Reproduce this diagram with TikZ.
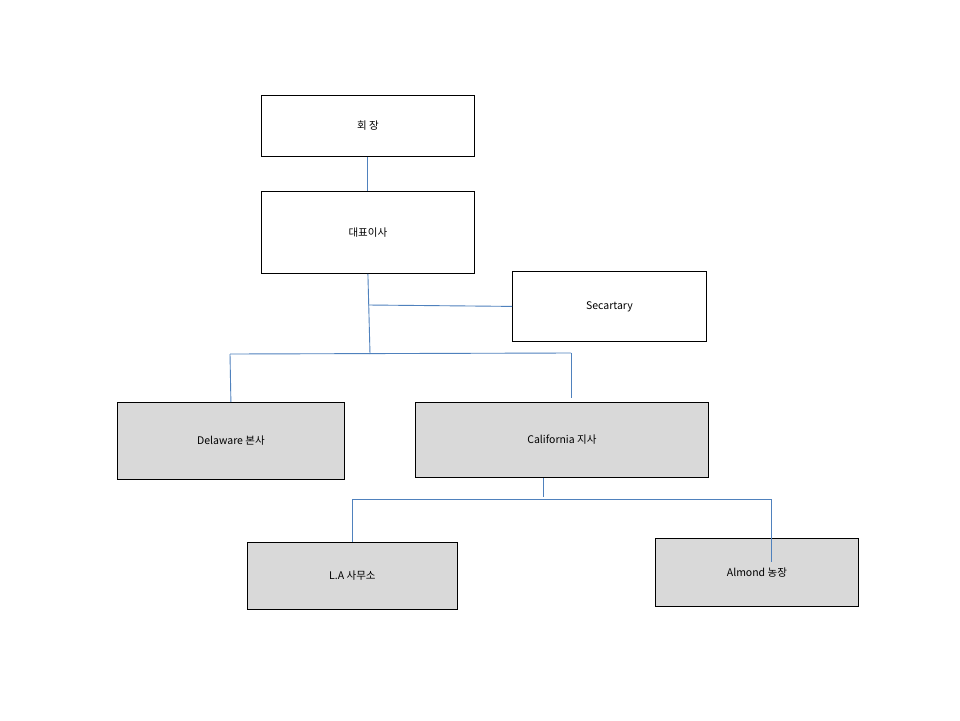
\documentclass[tikz,border=0pt]{standalone}
\usepackage{fontspec}
\setmainfont{Noto Sans CJK KR}
\begin{document}
\begin{tikzpicture}[x=1pt,y=-1pt,
  box/.style={draw=black,line width=0.8pt,anchor=north west,inner sep=0pt,font=\fontsize{10.5}{12}\selectfont},
  gbox/.style={box,fill=gray!30},
  conn/.style={draw={rgb,255:red,79;green,129;blue,189},line width=0.9pt}]
\useasboundingbox[fill=white] (0,0) rectangle (960,720);
\node[box,minimum width=213pt,minimum height=61pt] (a) at (261,95) {회 장};
\node[box,minimum width=213pt,minimum height=82pt] (b) at (261,191) {대표이사};
\node[box,minimum width=194pt,minimum height=70pt] (s) at (512,271) {Secartary};
\node[gbox,minimum width=227pt,minimum height=77pt] (d) at (117,402) {Delaware 본사};
\node[gbox,minimum width=293pt,minimum height=75pt] (c) at (415,402) {California 지사};
\node[gbox,minimum width=210pt,minimum height=67pt] (l) at (247,542) {L.A 사무소};
\node[gbox,minimum width=203pt,minimum height=68pt] (m) at (655,538) {Almond 농장};
\coordinate (j1) at (370,354);
\coordinate (j2) at (230,354);
\coordinate (j3) at (571,353);
\coordinate (j4) at (571,398);
\coordinate (s1) at (368,305);
\coordinate (k0) at (543,497);
\coordinate (k1) at (352,499);
\coordinate (k2) at (771,499);
\coordinate (k3) at (771,562);
\draw[conn] (a.south) -- (b.north);
\draw[conn] (b.south) -- (j1);
\draw[conn] (s1) -- (s.west);
\draw[conn] (j2) -- (j3);
\draw[conn] (j2) -- (d.north);
\draw[conn] (j3) -- (j4);
\draw[conn] (c.south -| k0) -- (k0);
\draw[conn] (k1) -- (k2) -- (k3);
\draw[conn] (k1) -- (l.north -| k1);
\end{tikzpicture}
\end{document}
